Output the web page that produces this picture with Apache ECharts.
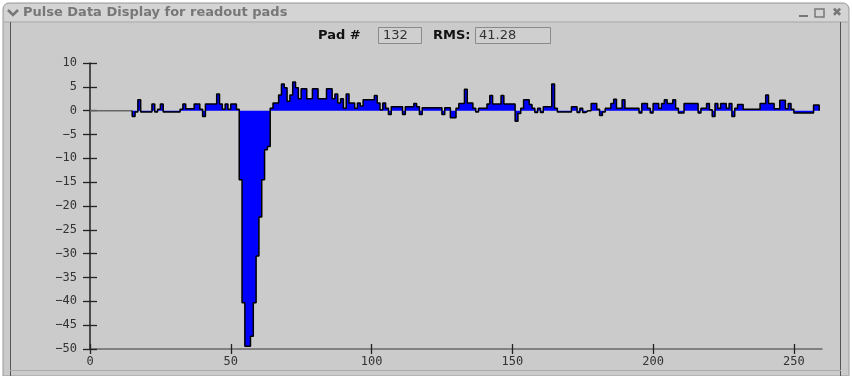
<!DOCTYPE html>
<html>
<head>
<meta charset="utf-8">
<script src="https://cdn.jsdelivr.net/npm/echarts@6/dist/echarts.min.js"></script>
<style>
html,body{margin:0;padding:0;background:#fff}
#main{width:852px;height:376px}
</style>
</head>
<body>
<div id="main"></div>
<script>
//脉冲数据 第15道开始, 每道一个值
let startBin = 15;
let padValues = [
    -1.2, -0.3, 2.3, -0.3, -0.3, -0.3, -0.3, 1.4, -0.3, 0.3,      // 15-24
    1.4, -0.3, -0.3, -0.3, -0.3, -0.3, -0.3, 0.3, 1.4, 0.4,        // 25-34
    0.4, 0.4, 1.4, 1.4, 0.3, -1.2, 1.4, 1.4, 1.4, 1.4,             // 35-44
    3.5, 1.4, 0.3, 1.4, 0.3, 1.4, 1.4, 0.3, -14.5, -40.3,          // 45-54
    -49.4, -49.4, -47.3, -40.3, -30.5, -22.3, -14.5, -8.2, -7.5, 0.5, // 55-64
    1.6, 1.6, 3.3, 5.6, 4.8, 2.0, 3.3, 6.0, 4.8, 2.5,              // 65-74
    4.6, 4.6, 2.5, 2.5, 4.6, 4.6, 2.5, 2.5, 2.5, 4.6,              // 75-84
    4.6, 2.5, 3.5, 1.6, 2.5, 0.5, 3.5, 1.6, 1.6, 0.5,              // 85-94
    1.6, 1.0, 2.3, 2.3, 2.3, 2.3, 3.2, 1.6, 0.2, 1.6,              // 95-104
    0.5, -0.8, 0.8, 0.8, 0.8, 0.8, -0.8, 0.8, 0.8, 0.8,            // 105-114
    1.5, 0.8, -0.8, 0.6, 0.6, 0.6, 0.6, 0.6, 0.6, 0.6,             // 115-124
    -0.8, 0.6, 0.6, -1.5, -1.5, 0.5, 1.5, 1.5, 4.5, 1.6,           // 125-134
    1.6, 0.5, -0.3, 0.5, 0.5, 0.5, 1.4, 3.2, 1.4, 1.4,             // 135-144
    1.4, 3.2, 1.4, 1.4, 1.4, 1.4, -2.2, -0.6, 0.5, 2.3,            // 145-154
    2.3, 1.3, 0.5, -0.4, 0.5, -0.4, 0.8, 0.8, 0.8, 5.6,            // 155-164
    0.5, -0.3, -0.3, -0.3, -0.3, -0.3, 0.8, 0.8, -0.4, 0.5,        // 165-174
    -0.4, 0, 0, 1.5, 1.5, 0.3, -1.0, -0.3, 0.5, 0.5,               // 175-184
    1.5, 2.4, 0.5, 0.5, 2.3, 0.5, 0.5, 0.5, 0.5, 0.5,              // 185-194
    -0.5, 1.5, 1.5, 0.5, -0.5, 1.5, 1.5, 0.5, 1.5, 2.3,            // 195-204
    1.5, 1.5, 2.3, 0.5, -0.5, -0.5, 1.5, 1.5, 1.5, 1.5,            // 205-214
    1.5, -0.5, 0.5, 0.5, 1.5, 0.2, -1.2, 1.5, 0.5, 1.5,            // 215-224
    1.5, 0.5, 1.5, -1.2, 0.5, 1.3, 1.3, 0.3, 0.3, 0.3,             // 225-234
    0.3, 0.3, 0.3, 1.5, 1.5, 3.3, 1.5, 1.5, 0.4, 0.4,              // 235-244
    2.2, 2.2, 0.4, 1.5, 0.3, -0.5, -0.5, -0.5, -0.5, -0.5,         // 245-254
    -0.5, -0.5, 1.2, 1.2                                            // 255-258
];
let xTicks = [0, 50, 100, 150, 200, 250];
let xRange = [0, 260];
let yRange = [-50, 10];
let padNo = '132';
let rms = '41.28';
let winTitle = 'Pulse Data Display for readout pads';

//阶梯数据
let stepData = [[startBin, 0]];
for (let i = 0; i < padValues.length; i++) {
    stepData.push([startBin + i, padValues[i]]);
}
let endBin = startBin + padValues.length;
stepData.push([endBin, padValues[padValues.length - 1]]);
stepData.push([endBin, 0]);

let minus = function (v) {
    return String(v).replace('-', '\u2212');
};

let axisFont = 'DejaVu Sans Mono';
let tickStyle = {color: '#222', width: 1.3};
let option = {
    backgroundColor: '#ffffff',
    animation: false,
    grid: {
        left: 90,
        right: 30,
        top: 63,
        bottom: 27
    },
    xAxis: [{
        type: 'value',
        min: xRange[0],
        max: xRange[1],
        interval: 50,
        axisLine: {
            onZero: false,
            lineStyle: {color: '#6a6a6a', width: 1.5}
        },
        axisTick: {
            length: 5,
            customValues: xTicks,
            lineStyle: tickStyle
        },
        axisLabel: {
            customValues: xTicks,
            margin: 7,
            fontFamily: axisFont,
            fontSize: 12,
            color: '#333'
        },
        splitLine: {show: false}
    }, {
        type: 'value',
        position: 'bottom',
        min: xRange[0],
        max: xRange[1],
        interval: 50,
        axisLine: {show: false, onZero: false},
        axisTick: {
            inside: true,
            length: 5,
            customValues: xTicks,
            lineStyle: tickStyle
        },
        axisLabel: {show: false},
        splitLine: {show: false}
    }],
    yAxis: [{
        type: 'value',
        min: yRange[0],
        max: yRange[1],
        interval: 5,
        axisLine: {
            show: true,
            onZero: false,
            lineStyle: {color: '#222', width: 1.5}
        },
        axisTick: {
            show: true,
            length: 7,
            lineStyle: tickStyle
        },
        axisLabel: {
            margin: 13,
            fontFamily: axisFont,
            fontSize: 12,
            color: '#333',
            formatter: minus
        },
        splitLine: {show: false}
    }, {
        type: 'value',
        position: 'left',
        min: yRange[0],
        max: yRange[1],
        interval: 5,
        axisLine: {show: false, onZero: false},
        axisTick: {
            show: true,
            inside: true,
            length: 7,
            lineStyle: tickStyle
        },
        axisLabel: {show: false},
        splitLine: {show: false}
    }],
    graphic: [
        //窗口外框
        {type: 'rect', z: -10, shape: {x: 3, y: 3, width: 846, height: 373, r: [6, 6, 0, 0]},
            style: {fill: '#cbcbcb', stroke: '#9a9a9a', lineWidth: 1}},
        {type: 'rect', z: -9, shape: {x: 4, y: 4, width: 844, height: 18, r: [5, 5, 0, 0]},
            style: {fill: '#d4d4d4'}},
        {type: 'line', z: -8, shape: {x1: 4, y1: 22, x2: 848, y2: 22}, style: {stroke: '#a8a8a8', lineWidth: 1}},
        {type: 'line', z: -8, shape: {x1: 10.5, y1: 22, x2: 10.5, y2: 376}, style: {stroke: '#555', lineWidth: 1}},
        {type: 'line', z: -8, shape: {x1: 840.5, y1: 22, x2: 840.5, y2: 376}, style: {stroke: '#555', lineWidth: 1}},
        {type: 'line', z: -8, shape: {x1: 10, y1: 370.5, x2: 841, y2: 370.5}, style: {stroke: '#aaa', lineWidth: 1}},
        {type: 'polyline', z: -7, shape: {points: [[8, 10], [13, 15], [18, 10]]},
            style: {stroke: '#777', lineWidth: 2.5, fill: null}},
        {type: 'text', z: -7, x: 23, y: 13,
            style: {text: winTitle, fontFamily: 'DejaVu Sans', fontWeight: 'bold', fontSize: 13,
                fill: '#777', verticalAlign: 'middle'}},
        {type: 'line', z: -7, shape: {x1: 799, y1: 16, x2: 808, y2: 16}, style: {stroke: '#777', lineWidth: 2}},
        {type: 'rect', z: -7, shape: {x: 815, y: 9, width: 9, height: 8}, style: {fill: null, stroke: '#777', lineWidth: 1.5}},
        {type: 'text', z: -7, x: 832, y: 13,
            style: {text: '\u2716', fontSize: 12, fill: '#777', verticalAlign: 'middle'}},
        //Pad / RMS
        {type: 'text', x: 318, y: 36,
            style: {text: 'Pad #', fontFamily: 'DejaVu Sans', fontWeight: 'bold', fontSize: 13,
                fill: '#111', verticalAlign: 'middle'}},
        {type: 'rect', shape: {x: 378.5, y: 27.5, width: 43, height: 16},
            style: {fill: '#cfcfcf', stroke: '#8a8a8a', lineWidth: 1}},
        {type: 'text', x: 383, y: 36,
            style: {text: padNo, fontFamily: 'DejaVu Sans', fontSize: 13, fill: '#333', verticalAlign: 'middle'}},
        {type: 'text', x: 433, y: 36,
            style: {text: 'RMS:', fontFamily: 'DejaVu Sans', fontWeight: 'bold', fontSize: 13,
                fill: '#111', verticalAlign: 'middle'}},
        {type: 'rect', shape: {x: 475.5, y: 27.5, width: 75, height: 16},
            style: {fill: '#cfcfcf', stroke: '#8a8a8a', lineWidth: 1}},
        {type: 'text', x: 479, y: 36,
            style: {text: rms, fontFamily: 'DejaVu Sans', fontSize: 13, fill: '#333', verticalAlign: 'middle'}}
    ],
    series: [{
        name: 'zero',
        type: 'line',
        data: [[xRange[0], 0], [startBin, 0]],
        symbol: 'none',
        silent: true,
        lineStyle: {color: '#666', width: 1.5}
    }, {
        name: 'pulse',
        type: 'line',
        step: 'end',
        data: stepData,
        symbol: 'none',
        lineStyle: {color: '#000', width: 1.5},
        areaStyle: {color: '#0000ff', opacity: 1},
        z: 3
    }]
};

let myChart = echarts.init(document.getElementById('main'));
myChart.setOption(option);
</script>
</body>
</html>
